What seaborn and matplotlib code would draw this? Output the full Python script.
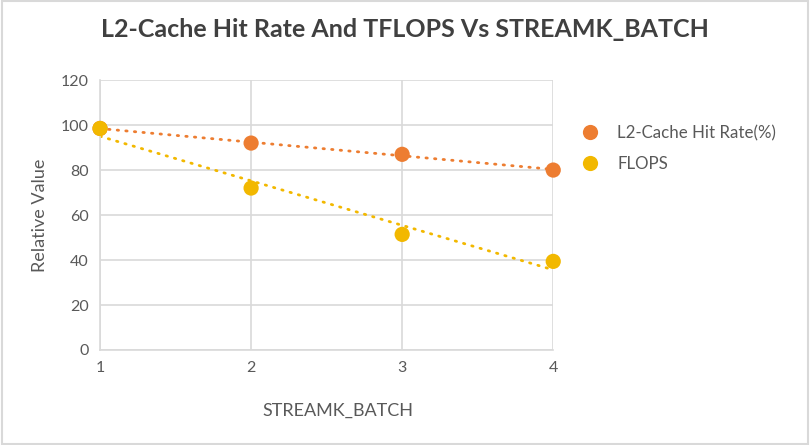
import numpy as np
import pandas as pd
import seaborn as sns
import matplotlib.pyplot as plt

# values
batch = [1, 2, 3, 4]
l2_hit_rate = [98.5, 92, 87, 80]
flops = [98.5, 72, 51.4, 39.4]
series_names = ['L2-Cache Hit Rate(%)', 'FLOPS']
series_colors = ['#ED7D31', '#F2B800']

df = pd.DataFrame({
    'STREAMK_BATCH': batch * 2,
    'value': l2_hit_rate + flops,
    'series': [series_names[0]] * 4 + [series_names[1]] * 4,
})

sns.set_style('white')
plt.rcParams['font.family'] = ['Lato', 'DejaVu Sans']
text_gray = '#595959'
grid_gray = '#D9D9D9'

fig = plt.figure(figsize=(8.1, 4.45), dpi=100)
ax = fig.add_axes([0.1235, 0.2135, 0.5595, 0.6065])

# dotted linear trendlines
for name, color in zip(series_names, series_colors):
    sub = df[df['series'] == name]
    k, b = np.polyfit(sub['STREAMK_BATCH'], sub['value'], 1)
    xs = np.array([min(batch), max(batch)])
    ax.plot(xs, k * xs + b, color=color, lw=2, linestyle=(0, (0.5, 2.6)),
            dash_capstyle='round', zorder=2)

sns.scatterplot(data=df, x='STREAMK_BATCH', y='value', hue='series',
                palette=series_colors, s=120, edgecolor='none', ax=ax,
                zorder=3, clip_on=False)

ax.set_xlim(1, 4)
ax.set_ylim(0, 120)
ax.set_xticks(batch)
ax.set_yticks(range(0, 121, 20))
ax.grid(True, color=grid_gray, lw=1.2)
ax.set_axisbelow(True)
for side in ['top', 'right']:
    ax.spines[side].set_visible(False)
for side in ['left', 'bottom']:
    ax.spines[side].set_color(grid_gray)
    ax.spines[side].set_linewidth(1.2)
ax.tick_params(length=0, labelsize=11.5, colors=text_gray, pad=8)

ax.set_xlabel('STREAMK_BATCH', fontsize=13, color=text_gray, labelpad=20, x=0.525)
ax.set_ylabel('Relative Value', fontsize=13, color=text_gray, labelpad=9)

fig.suptitle('L2-Cache Hit Rate And TFLOPS Vs STREAMK_BATCH', x=0.5, y=0.96,
             fontsize=18, fontweight='bold', color='#404040')

handles, labels = ax.get_legend_handles_labels()
ax.legend(handles=handles, labels=labels, loc='upper left',
          bbox_to_anchor=(1.01, 0.89), frameon=False, fontsize=12.2,
          labelcolor=text_gray, handletextpad=0.6, labelspacing=0.85,
          markerscale=1.0)

# light frame around the whole chart
fig.patches.append(plt.Rectangle((0.002, 0.003), 0.995, 0.994,
                                 transform=fig.transFigure, fill=False,
                                 edgecolor=grid_gray, lw=1.5))

fig.savefig('out.png', dpi=100)
